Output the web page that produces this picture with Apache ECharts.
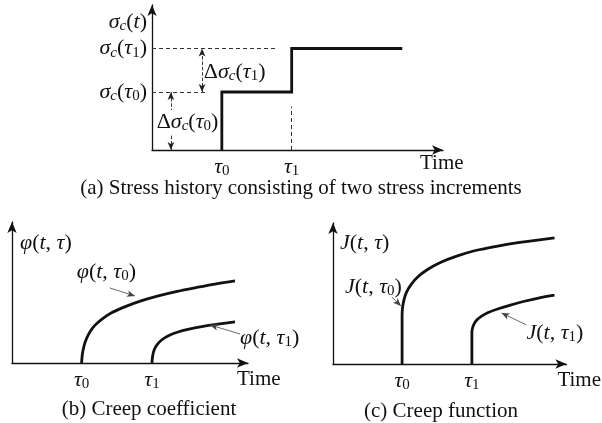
<!DOCTYPE html>
<html>
<head>
<meta charset="utf-8">
<script src="https://cdn.jsdelivr.net/npm/echarts@6/dist/echarts.min.js"></script>
<style>
  html, body { margin: 0; padding: 0; background: #fff; }
  #chart { width: 602px; height: 423px; }
</style>
</head>
<body>
<div id="chart"></div>
<script>
// ---- (a) stress history: two stress increments ----
const stressTimes = [24, 48];        // τ0, τ1
const stressLevels = [40, 70];       // σc(τ0), σc(τ1)
const stressEndTime = 86;

// ---- (b) creep coefficient curves [time, φ] ----
const phiTimes = [29.5, 59.3];
const phiTau0 = [[29.5,0],[29.8,6],[30.5,12],[31.5,17],[33,22],[35,26.5],[38,31],[42,35.5],[48,40],[55,44.2],[62,47.6],[70,50.8],[78,53.5],[86,56],[94.5,58.2]];
const phiTau1 = [[59.3,0],[59.6,5],[60.3,9.5],[61.5,13],[63.5,16.5],[66.5,19.5],[70,21.8],[75,24],[81,26],[88,27.7],[94.5,29.1]];

// ---- (c) creep function curves [time, J] ----
const jTimes = [29.6, 59.5];
const jTau0 = [[29.6,0],[29.6,35],[29.8,40],[30.4,45.5],[31.5,51],[33.5,56.5],[36.5,62],[40.5,67],[46,72],[53,76.5],[61,80.5],[70,83.5],[80,86.2],[94.9,89.4]];
const jTau1 = [[59.5,0],[59.5,22],[59.7,25],[60.3,28],[61.5,31],[63.5,33.8],[66.5,36.5],[70.5,39],[76,41.8],[82,44.5],[88,46.8],[94.9,48.9]];

const FONT = '"Liberation Serif", "Times New Roman", serif';
const INK = '#111111';
const FS = 21;

const rich = {
  r:  { fontFamily: FONT, fontSize: 22, lineHeight: 24, color: INK },
  i:  { fontFamily: FONT, fontSize: 22, lineHeight: 24, color: INK, fontStyle: 'italic' },
  s:  { fontFamily: FONT, fontSize: 15, lineHeight: 10, color: INK, verticalAlign: 'bottom' },
  si: { fontFamily: FONT, fontSize: 15, lineHeight: 10, color: INK, verticalAlign: 'bottom', fontStyle: 'italic' }
};

// math label builders
const tauTxt = k => '{i|τ}{s|' + k + '}';
const sigmaTxt = arg => '{i|σ}{si|c}{r|(}' + arg + '{r|)}';
const phiTxt = arg => '{i|φ}{r|(}{i|t}{r|, }' + arg + '{r|)}';
const jTxt = arg => '{i|J}{r|(}{i|t}{r|, }' + arg + '{r|)}';

// step polyline from the increments
const stressPath = [];
stressTimes.forEach((t, k) => {
  stressPath.push([t, k === 0 ? 0 : stressLevels[k - 1]]);
  stressPath.push([t, stressLevels[k]]);
});
stressPath.push([stressEndTime, stressLevels[stressLevels.length - 1]]);

const grids = [
  { left: 152, top: 5,   width: 291, height: 145 },
  { left: 12,  top: 222, width: 236, height: 141 },
  { left: 333, top: 223, width: 234, height: 141 }
];

function xAxisFor(gi, ticks, gap, padTop) {
  return {
    type: 'value', gridIndex: gi, min: 0, max: 100,
    splitLine: { show: false }, axisTick: { show: false },
    axisLine: { symbol: ['none', 'arrow'], symbolSize: [7, 11], lineStyle: { color: INK, width: 1.3 } },
    axisLabel: {
      show: true, customValues: ticks, margin: 5,
      formatter: v => tauTxt(ticks.indexOf(v)), rich: rich
    },
    name: 'Time', nameLocation: 'end', nameGap: gap,
    nameTextStyle: { fontFamily: FONT, fontSize: FS, color: INK, align: 'left', verticalAlign: 'top', padding: [padTop, 0, 0, 0] }
  };
}

function yAxisFor(gi, name, align, gap, pad, labelOpt) {
  return {
    type: 'value', gridIndex: gi, min: 0, max: 100,
    splitLine: { show: false }, axisTick: { show: false },
    axisLine: { symbol: ['none', 'arrow'], symbolSize: [7, 11], lineStyle: { color: INK, width: 1.3 } },
    axisLabel: labelOpt || { show: false },
    name: name, nameLocation: 'end', nameGap: gap,
    nameTextStyle: { align: align, verticalAlign: 'middle', padding: pad, rich: rich }
  };
}

const curveStyle = { color: '#111', width: 2.8, cap: 'butt', join: 'miter' };
const thin = { color: '#444', width: 0.8, type: 'solid' };
const dash = { color: '#333', width: 1, type: [4, 3] };

function arrowLine(a, b, style, both) {
  return [
    { coord: a, symbol: both ? 'arrow' : 'none', symbolSize: [5, 8], lineStyle: style },
    { coord: b, symbol: 'arrow', symbolSize: [5, 8] }
  ];
}

function labelsSeries(gi, items) {
  return {
    type: 'scatter', xAxisIndex: gi, yAxisIndex: gi, z: 5, clip: false,
    symbolSize: 0, silent: true, animation: false,
    itemStyle: { color: INK, opacity: 1 },
    data: items.map(it => ({
      value: it.at,
      label: {
        show: true, formatter: it.text, rich: rich,
        color: INK, textBorderWidth: 0, textBorderColor: 'transparent', opacity: 1,
        position: it.pos || 'inside', distance: it.dist || 0,
        backgroundColor: it.bg || 'transparent', padding: it.bg ? [0, 1] : 0
      }
    }))
  };
}

const option = {
  backgroundColor: '#fff',
  animation: false,
  grid: grids,
  xAxis: [xAxisFor(0, stressTimes, -23, 3), xAxisFor(1, phiTimes, -11, 6), xAxisFor(2, jTimes, -9, 6)],
  yAxis: [
    yAxisFor(0, sigmaTxt('{i|t}'), 'right', -17, [0, 5, 0, 0], {
      show: true, customValues: stressLevels, margin: 5,
      formatter: v => sigmaTxt(tauTxt(stressLevels.indexOf(v))), rich: rich
    }),
    yAxisFor(1, phiTxt('{i|τ}'), 'left', -21, [0, 0, 0, 8]),
    yAxisFor(2, jTxt('{i|τ}'), 'left', -20, [0, 0, 0, 7])
  ],
  series: [
    {
      type: 'line', xAxisIndex: 0, yAxisIndex: 0, z: 2,
      data: stressPath, showSymbol: false, symbol: 'none', lineStyle: curveStyle,
      markLine: {
        silent: true, animation: false, symbol: ['none', 'none'], label: { show: false },
        emphasis: { disabled: true },
        data: [
          [{ coord: [0, stressLevels[1]], lineStyle: dash }, { coord: [43.3, stressLevels[1]] }],
          [{ coord: [0, stressLevels[0]], lineStyle: dash }, { coord: [19.2, stressLevels[0]] }],
          [{ coord: [stressTimes[1], 0], lineStyle: dash }, { coord: [stressTimes[1], 30] }],
          arrowLine([17.2, stressLevels[0]], [17.2, stressLevels[1]], { color: '#222', width: 0.9 }, true),
          arrowLine([6.5, 0], [6.5, stressLevels[0]], { color: '#222', width: 0.9 }, true)
        ]
      }
    },
    labelsSeries(0, [
      { at: [17.8, 53.8], text: '{r|Δ}' + sigmaTxt(tauTxt(1)), pos: 'right', dist: 0 },
      { at: [12.2, 19.3], text: '{r|Δ}' + sigmaTxt(tauTxt(0)), bg: '#fff' }
    ]),
    {
      type: 'line', xAxisIndex: 1, yAxisIndex: 1, z: 2, smooth: 0.35,
      data: phiTau0, showSymbol: false, symbol: 'none', lineStyle: curveStyle,
      markLine: {
        silent: true, animation: false, symbol: ['none', 'none'], label: { show: false },
        emphasis: { disabled: true },
        data: [
          arrowLine([41.5, 53.2], [52.1, 47.5], thin),
          arrowLine([96.6, 20.6], [83.9, 27.0], thin)
        ]
      }
    },
    {
      type: 'line', xAxisIndex: 1, yAxisIndex: 1, z: 2, smooth: 0.35,
      data: phiTau1, showSymbol: false, symbol: 'none', lineStyle: curveStyle
    },
    labelsSeries(1, [
      { at: [40, 64.5], text: phiTxt(tauTxt(0)) },
      { at: [96.6, 17.7], text: phiTxt(tauTxt(1)), pos: 'right', dist: 0 }
    ]),
    {
      type: 'line', xAxisIndex: 2, yAxisIndex: 2, z: 2, smooth: 0.3,
      data: jTau0, showSymbol: false, symbol: 'none', lineStyle: curveStyle,
      markLine: {
        silent: true, animation: false, symbol: ['none', 'none'], label: { show: false },
        emphasis: { disabled: true },
        data: [
          arrowLine([25.2, 47.5], [29.1, 41.1], thin),
          arrowLine([82.9, 27.7], [72.2, 36.2], thin)
        ]
      }
    },
    {
      type: 'line', xAxisIndex: 2, yAxisIndex: 2, z: 2, smooth: 0.3,
      data: jTau1, showSymbol: false, symbol: 'none', lineStyle: curveStyle
    },
    labelsSeries(2, [
      { at: [17.3, 54.6], text: jTxt(tauTxt(0)) },
      { at: [82.9, 22], text: jTxt(tauTxt(1)), pos: 'right', dist: 0 }
    ])
  ],
  graphic: [
    { type: 'text', x: 301, y: 188, silent: true,
      style: { text: '(a) Stress history consisting of two stress increments', fontFamily: FONT, fontSize: FS, fill: INK, align: 'center', verticalAlign: 'middle' } },
    { type: 'text', x: 149, y: 409, silent: true,
      style: { text: '(b) Creep coefficient', fontFamily: FONT, fontSize: FS, fill: INK, align: 'center', verticalAlign: 'middle' } },
    { type: 'text', x: 441, y: 411, silent: true,
      style: { text: '(c) Creep function', fontFamily: FONT, fontSize: FS, fill: INK, align: 'center', verticalAlign: 'middle' } }
  ]
};

const chart = echarts.init(document.getElementById('chart'), null, { renderer: 'canvas' });
chart.setOption(option);
</script>
</body>
</html>
